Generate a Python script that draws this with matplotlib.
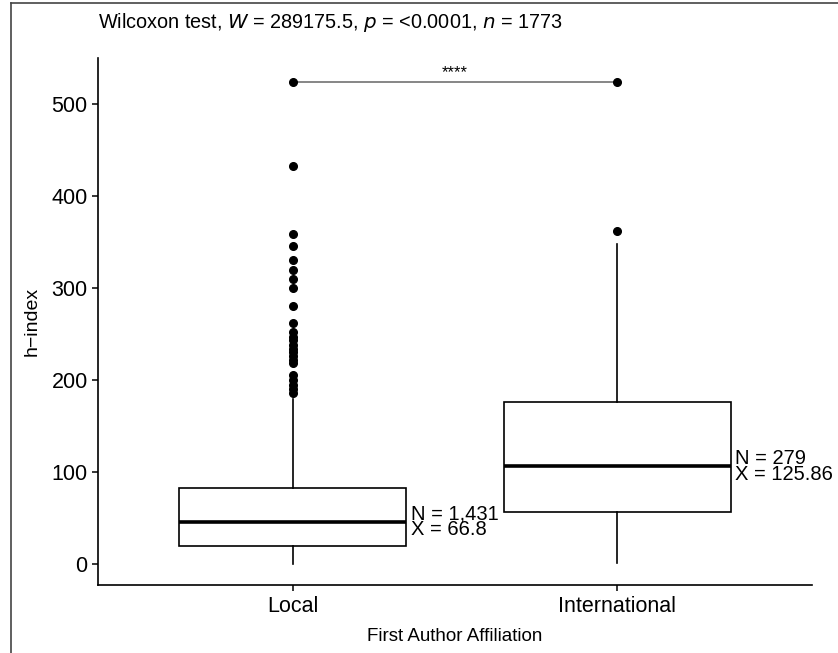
import matplotlib.pyplot as plt
from matplotlib.lines import Line2D

plt.rcParams['font.family'] = ['Liberation Sans', 'DejaVu Sans']

# Data
groups = ['Local', 'International']
medians = [46, 106]
q1 = [20, 56]
q3 = [83, 176]
whisker_low = [0, 1]
whisker_high = [179, 348]
outliers = [
    [524, 433, 359, 346, 330, 320, 310, 300, 280, 262, 252, 247, 243, 238,
     234, 230, 226, 222, 218, 205, 200, 195, 190, 186],
    [524, 362],
]
n_labels = ['N = 1,431', 'N = 279']
mean_labels = ['X = 66.8', 'X = 125.86']
bracket_y = 524
title = 'Wilcoxon test, $\\it{W}$ = 289175.5, $\\it{p}$ = <0.0001, $\\it{n}$ = 1773'

fig = plt.figure(figsize=(8.38, 6.53), dpi=100)
ax = fig.add_axes([0.117, 0.104, 0.852, 0.807])

stats = []
for i, g in enumerate(groups):
    stats.append(dict(label=g, med=medians[i], q1=q1[i], q3=q3[i],
                      whislo=whisker_low[i], whishi=whisker_high[i],
                      fliers=outliers[i]))

ax.bxp(stats, positions=[1, 2], widths=0.7, patch_artist=True,
       boxprops=dict(facecolor='white', edgecolor='black', linewidth=1.2),
       medianprops=dict(color='black', linewidth=2.6),
       whiskerprops=dict(color='black', linewidth=1.2),
       capprops=dict(linewidth=0),
       flierprops=dict(marker='o', markerfacecolor='black',
                       markeredgecolor='black', markersize=5.5))

# significance bracket
ax.plot([1, 2], [bracket_y, bracket_y], color='#666666', linewidth=1.1, zorder=1)
ax.text(1.5, bracket_y + 2, '****', ha='center', va='bottom', fontsize=12)

# N / mean annotations next to each box
for i in range(len(groups)):
    ax.annotate(n_labels[i] + '\n' + mean_labels[i],
                xy=(i + 1 + 0.35, medians[i]), xytext=(3, 0),
                textcoords='offset points', ha='left', va='center',
                fontsize=14.5, linespacing=0.8)

ax.set_xlim(0.4, 2.6)
ax.set_ylim(-23, 550)
ax.set_xticks([1, 2])
ax.set_xticklabels(groups, fontsize=15.5)
ax.set_yticks([0, 100, 200, 300, 400, 500])
ax.tick_params(axis='y', labelsize=15.5, length=4, width=1.1)
ax.tick_params(axis='x', length=4, width=1.1)
for s in ['top', 'right']:
    ax.spines[s].set_visible(False)
for s in ['left', 'bottom']:
    ax.spines[s].set_linewidth(1.2)

ax.set_xlabel('First Author Affiliation', fontsize=13.5, labelpad=8)
ax.set_ylabel('h\u2212index', fontsize=14, labelpad=8)
fig.text(0.117, 0.966, title, fontsize=14.3, ha='left', va='center')

# outer frame (top and left edges)
fig.add_artist(Line2D([0.013, 0.013], [0, 0.996], color='#444444', linewidth=1.2))
fig.add_artist(Line2D([0.013, 1], [0.996, 0.996], color='#444444', linewidth=1.2))

fig.savefig('out.png', dpi=100)
